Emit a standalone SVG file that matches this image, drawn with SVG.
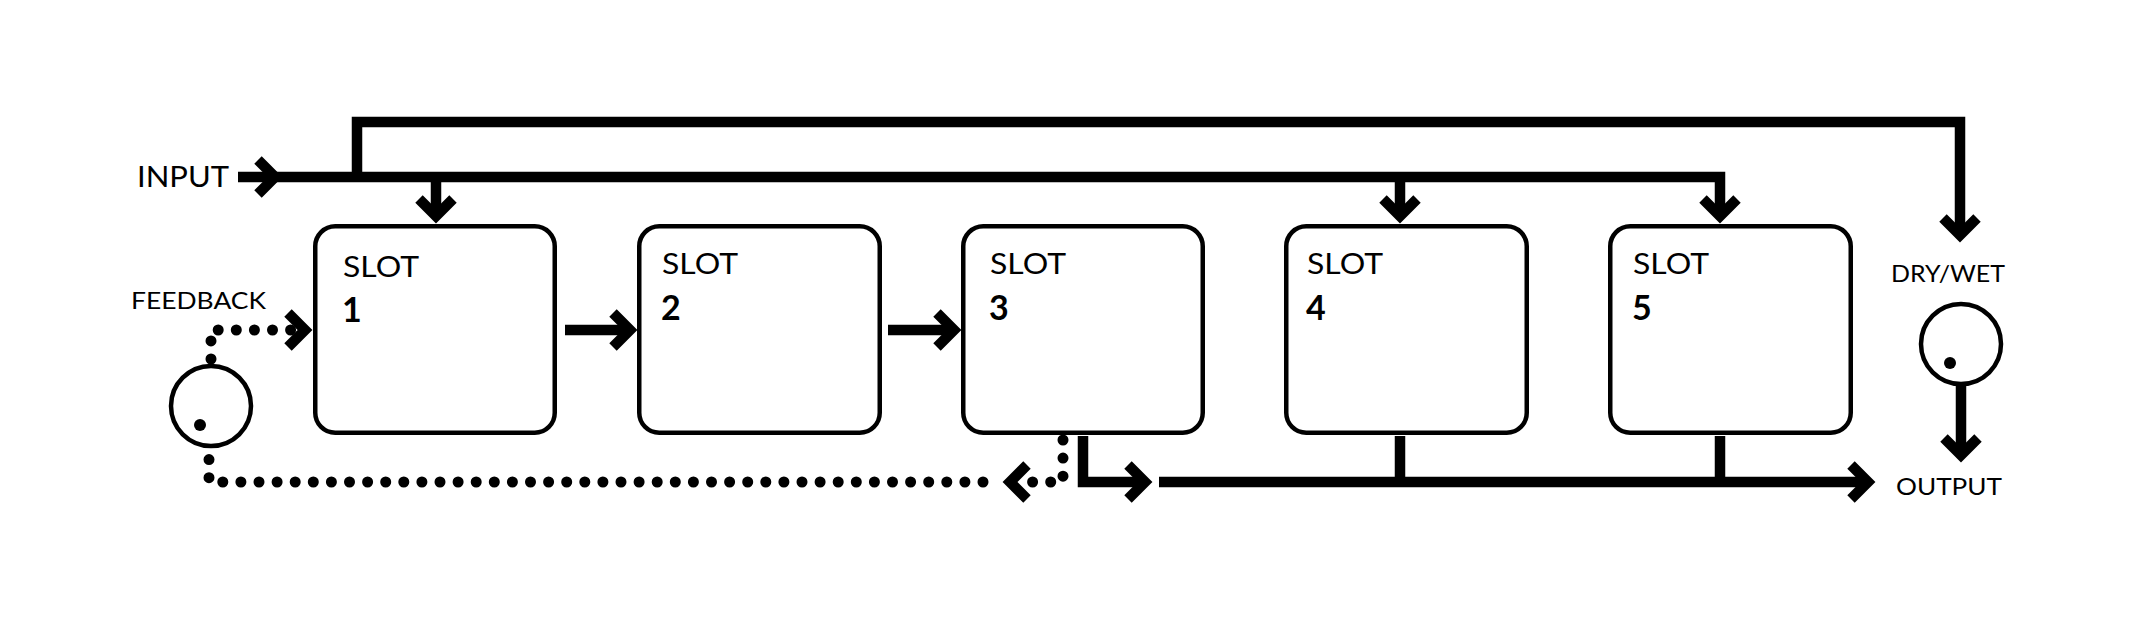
<svg xmlns="http://www.w3.org/2000/svg" xmlns:xlink="http://www.w3.org/1999/xlink" width="2134" height="625" viewBox="0 0 2134 625">
  <style>
    .bg { fill: #ffffff; }
    .box { fill: #ffffff; stroke: #000000; stroke-width: 4.5; }
    .knob { fill: #ffffff; stroke: #000000; stroke-width: 4.5; }
    .pip { fill: #000000; }
    .wire { fill: none; stroke: #000000; stroke-width: 10.5; stroke-linejoin: miter; stroke-linecap: butt; }
    .dots { fill: none; stroke: #000000; stroke-width: 11; stroke-linecap: round; stroke-dasharray: 0 18.1; }
    .chev { fill: none; stroke: #000000; stroke-width: 10.5; stroke-linejoin: miter; stroke-linecap: butt; }
    .lbl { font-family: Lato, "Liberation Sans", sans-serif; font-size: 24px; fill: #000000; }
    .big { font-size: 29px; }
    .slot { font-family: Lato, "Liberation Sans", sans-serif; font-size: 28px; fill: #000000; }
    .num { font-family: Lato, "Liberation Sans", sans-serif; font-size: 34px; font-weight: 700; fill: #000000; }
  </style>
  <defs>
    <path id="chev" class="chev" d="M-17,-17 L0,0 L-17,17"/>
    <marker id="ah" markerUnits="userSpaceOnUse" viewBox="-30 -30 60 60" markerWidth="60" markerHeight="60" refX="0" refY="0" orient="auto" overflow="visible">
      <use xlink:href="#chev" href="#chev"/>
    </marker>
  </defs>
  <rect class="bg" x="0" y="0" width="2134" height="625"/>

  <g id="connectors">
    <!-- input -->
    <path class="wire" d="M238,177 H275" marker-end="url(#ah)"/>
    <path class="wire" d="M275,177 H1720 V216" marker-end="url(#ah)"/>
    <path class="wire" d="M357,177 V122 H1960 V235" marker-end="url(#ah)"/>
    <path class="wire" d="M436,177 V216" marker-end="url(#ah)"/>
    <path class="wire" d="M1400,177 V216" marker-end="url(#ah)"/>
    <!-- chain -->
    <path class="wire" d="M565,330 H630" marker-end="url(#ah)"/>
    <path class="wire" d="M888,330 H954" marker-end="url(#ah)"/>
    <!-- outputs -->
    <path class="wire" d="M1083,436 V482 H1145" marker-end="url(#ah)"/>
    <path class="wire" d="M1159,482 H1868" marker-end="url(#ah)"/>
    <path class="wire" d="M1400,436 V482"/>
    <path class="wire" d="M1720,436 V482"/>
    <path class="wire" d="M1961,386 V455" marker-end="url(#ah)"/>
    <!-- feedback -->
    <path class="dots" d="M211,359 V330 H305" marker-end="url(#ah)"/>
    <path class="dots" d="M1063,440 V482 H1030"/>
    <use xlink:href="#chev" href="#chev" transform="translate(1010,482) rotate(180)"/>
    <path class="dots" d="M983,482 H209 V458"/>
  </g>

  <g id="input-label">
    <text class="lbl big" x="137" y="187" textLength="92" lengthAdjust="spacingAndGlyphs">INPUT</text>
  </g>

  <g id="feedback">
    <text class="lbl" x="131" y="309" textLength="135" lengthAdjust="spacingAndGlyphs">FEEDBACK</text>
    <circle class="knob" cx="211" cy="406" r="40"/>
    <circle class="pip" cx="200" cy="425" r="6"/>
  </g>

  <g id="slot1">
    <rect class="box" x="315.25" y="226.25" width="239.5" height="206.5" rx="20"/>
    <text class="slot" x="343" y="277" textLength="76" lengthAdjust="spacingAndGlyphs">SLOT</text>
    <text class="num" x="342" y="322">1</text>
  </g>
  <g id="slot2">
    <rect class="box" x="639.25" y="226.25" width="240.5" height="206.5" rx="20"/>
    <text class="slot" x="662" y="274" textLength="76" lengthAdjust="spacingAndGlyphs">SLOT</text>
    <text class="num" x="661" y="320">2</text>
  </g>
  <g id="slot3">
    <rect class="box" x="963.25" y="226.25" width="239.5" height="206.5" rx="20"/>
    <text class="slot" x="990" y="274" textLength="76" lengthAdjust="spacingAndGlyphs">SLOT</text>
    <text class="num" x="989" y="320">3</text>
  </g>
  <g id="slot4">
    <rect class="box" x="1286.25" y="226.25" width="240.5" height="206.5" rx="20"/>
    <text class="slot" x="1307" y="274" textLength="76" lengthAdjust="spacingAndGlyphs">SLOT</text>
    <text class="num" x="1306" y="320">4</text>
  </g>
  <g id="slot5">
    <rect class="box" x="1610.25" y="226.25" width="240.5" height="206.5" rx="20"/>
    <text class="slot" x="1633" y="274" textLength="76" lengthAdjust="spacingAndGlyphs">SLOT</text>
    <text class="num" x="1632" y="320">5</text>
  </g>

  <g id="drywet">
    <text class="lbl" x="1891" y="282" textLength="114" lengthAdjust="spacingAndGlyphs">DRY/WET</text>
    <circle class="knob" cx="1961" cy="344" r="40"/>
    <circle class="pip" cx="1950" cy="363" r="6"/>
  </g>

  <g id="output-label">
    <text class="lbl" x="1896" y="495" textLength="106" lengthAdjust="spacingAndGlyphs">OUTPUT</text>
  </g>
</svg>
